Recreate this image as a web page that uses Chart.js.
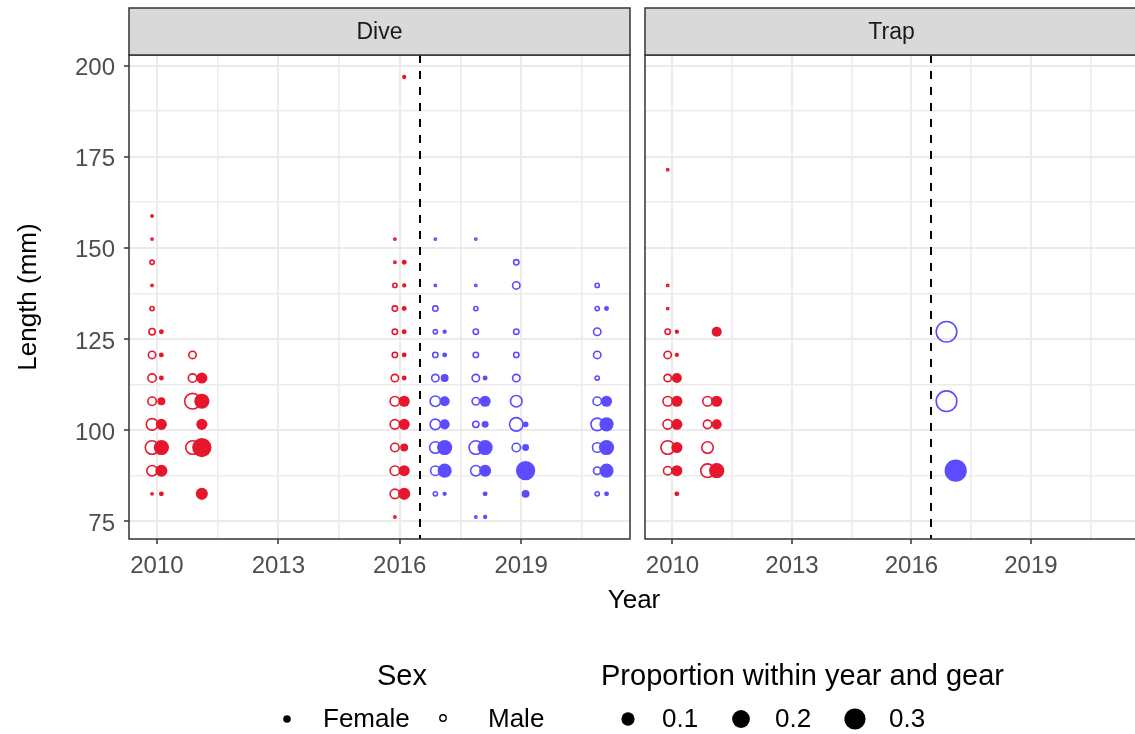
<!DOCTYPE html>
<html>
<head>
<meta charset="utf-8">
<script src="https://cdn.jsdelivr.net/npm/chart.js@4.4.1/dist/chart.umd.min.js"></script>
<style>
html,body{margin:0;padding:0;overflow:hidden;background:#ffffff;width:1135px;height:734px;}
canvas{position:absolute;left:0;top:0;}
</style>
</head>
<body>
<canvas id="dive" width="1150" height="734"></canvas>
<canvas id="trap" width="1150" height="734"></canvas>
<script>
// ---------------- DATA ----------------
// each entry: [year, length (mm), proportion within year and gear]
const diveMale = [
  [2010,158.75,0.005],[2010,152.4,0.005],[2010,146.05,0.012],[2010,139.7,0.005],[2010,133.35,0.012],
  [2010,127,0.027],[2010,120.65,0.038],[2010,114.3,0.05],[2010,107.95,0.05],[2010,101.6,0.097],
  [2010,95.25,0.138],[2010,88.9,0.079],[2010,82.55,0.005],
  [2011,120.65,0.038],[2011,114.3,0.05],[2011,107.95,0.186],[2011,95.25,0.138],
  [2016,152.4,0.005],[2016,146.05,0.005],[2016,139.7,0.012],[2016,133.35,0.019],[2016,127,0.019],
  [2016,120.65,0.019],[2016,114.3,0.038],[2016,107.95,0.064],[2016,101.6,0.064],[2016,95.25,0.05],
  [2016,88.9,0.064],[2016,82.55,0.064],[2016,76.2,0.005],
  [2017,152.4,0.005],[2017,139.7,0.005],[2017,133.35,0.019],[2017,127,0.012],[2017,120.65,0.019],
  [2017,114.3,0.038],[2017,107.95,0.079],[2017,101.6,0.079],[2017,95.25,0.097],[2017,88.9,0.064],[2017,82.55,0.012],
  [2018,152.4,0.005],[2018,139.7,0.005],[2018,133.35,0.012],[2018,127,0.019],[2018,120.65,0.019],
  [2018,114.3,0.038],[2018,107.95,0.038],[2018,101.6,0.027],[2018,95.25,0.138],[2018,88.9,0.079],[2018,76.2,0.005],
  [2019,146.05,0.019],[2019,139.7,0.038],[2019,127,0.019],[2019,120.65,0.019],[2019,114.3,0.038],
  [2019,107.95,0.097],[2019,101.6,0.138],[2019,95.25,0.05],
  [2021,139.7,0.012],[2021,133.35,0.012],[2021,127,0.038],[2021,120.65,0.038],[2021,114.3,0.012],
  [2021,107.95,0.05],[2021,101.6,0.117],[2021,95.25,0.064],[2021,88.9,0.038],[2021,82.55,0.012]
];
const diveFemale = [
  [2010,127,0.008],[2010,120.65,0.008],[2010,114.3,0.008],[2010,107.95,0.027],[2010,101.6,0.064],
  [2010,95.25,0.138],[2010,88.9,0.079],[2010,82.55,0.008],
  [2011,114.3,0.064],[2011,107.95,0.138],[2011,101.6,0.064],[2011,95.25,0.242],[2011,82.55,0.079],
  [2016,196.85,0.006],[2016,146.05,0.008],[2016,139.7,0.006],[2016,133.35,0.008],[2016,127,0.008],
  [2016,120.65,0.008],[2016,114.3,0.008],[2016,107.95,0.064],[2016,101.6,0.064],[2016,95.25,0.027],
  [2016,88.9,0.064],[2016,82.55,0.079],
  [2017,127,0.006],[2017,120.65,0.008],[2017,114.3,0.027],[2017,107.95,0.05],[2017,101.6,0.05],
  [2017,95.25,0.138],[2017,88.9,0.117],[2017,82.55,0.006],
  [2018,114.3,0.008],[2018,107.95,0.064],[2018,101.6,0.019],[2018,95.25,0.138],[2018,88.9,0.079],
  [2018,82.55,0.008],[2018,76.2,0.006],
  [2019,101.6,0.012],[2019,95.25,0.019],[2019,88.9,0.242],[2019,82.55,0.027],
  [2021,133.35,0.008],[2021,107.95,0.064],[2021,101.6,0.117],[2021,95.25,0.138],[2021,88.9,0.117],[2021,82.55,0.008]
];
const trapMale = [
  [2010,171.45,0.005],[2010,139.7,0.005],[2010,133.35,0.005],[2010,127,0.019],[2010,120.65,0.038],
  [2010,114.3,0.038],[2010,107.95,0.064],[2010,101.6,0.064],[2010,95.25,0.138],[2010,88.9,0.05],
  [2011,107.95,0.064],[2011,101.6,0.05],[2011,95.25,0.097],[2011,88.9,0.138],
  [2017,127,0.333],[2017,107.95,0.333]
];
const trapFemale = [
  [2010,127,0.006],[2010,120.65,0.006],[2010,114.3,0.05],[2010,107.95,0.064],[2010,101.6,0.064],
  [2010,95.25,0.064],[2010,88.9,0.064],[2010,82.55,0.008],
  [2011,127,0.05],[2011,107.95,0.064],[2011,101.6,0.05],[2011,88.9,0.138],
  [2017,88.9,0.333]
];
const panelNames = ['Dive', 'Trap'];
const xMajorTicks = [2010, 2013, 2016, 2019];
const xMinorTicks = [2011.5, 2014.5, 2017.5, 2020.5];
const yMajorTicks = [75, 100, 125, 150, 175, 200];
const yMinorTicks = [87.5, 112.5, 137.5, 162.5, 187.5];
const splitYear = 2016.5;
const sexLabels = ['Female', 'Male'];
const sizeBreaks = [0.1, 0.2, 0.3];

// ---------------- STYLE ----------------
const FONT = '"Liberation Sans", Arial, Helvetica, sans-serif';
const RED = '#E6172D', BLUE = '#5C4CFF';
const X_MIN = 2009.31, X_MAX = 2021.69, Y_MIN = 70.17, Y_MAX = 202.88;
const MALE_DODGE = -0.12, FEMALE_DODGE = 0.11;
const OPEN_STROKE = 1.6;

function diam(p) { return 2.8 + 19.6 * Math.sqrt(Math.max(p - 0.004, 0) / 0.336); }
function colorFor(yr) { return yr < splitYear ? RED : BLUE; }

function datasets(male, female) {
  const openR = c => Math.max(diam(c.raw.p) / 2 - OPEN_STROKE / 2, 0.8);
  const fillR = c => diam(c.raw.p) / 2;
  return [
    {
      label: 'Male', order: 2,
      data: male.map(d => ({ x: d[0] + MALE_DODGE, y: d[1], p: d[2], yr: d[0] })),
      pointStyle: 'circle',
      pointRadius: openR, pointHoverRadius: openR,
      pointBorderWidth: OPEN_STROKE,
      pointBackgroundColor: 'rgba(0,0,0,0)',
      pointBorderColor: c => colorFor(c.raw.yr)
    },
    {
      label: 'Female', order: 1,
      data: female.map(d => ({ x: d[0] + FEMALE_DODGE, y: d[1], p: d[2], yr: d[0] })),
      pointStyle: 'circle',
      pointRadius: fillR, pointHoverRadius: fillR,
      pointBorderWidth: 0,
      pointBackgroundColor: c => colorFor(c.raw.yr),
      pointBorderColor: c => colorFor(c.raw.yr)
    }
  ];
}

function scales(showY) {
  return {
    x: {
      type: 'linear', min: X_MIN, max: X_MAX,
      afterBuildTicks: s => { s.ticks = xMajorTicks.concat(xMinorTicks).sort((a, b) => a - b).map(v => ({ value: v })); },
      afterFit: s => { s.height = 45; },
      ticks: {
        autoSkip: false, maxRotation: 0, padding: 8,
        font: { family: FONT, size: 24 }, color: '#4D4D4D',
        callback: v => xMajorTicks.includes(v) ? String(v) : ''
      },
      grid: {
        color: '#EBEBEB',
        lineWidth: c => (c.tick && xMajorTicks.includes(c.tick.value)) ? 2 : 1.6,
        drawTicks: true, tickLength: 5, tickWidth: 1.5,
        tickColor: c => (c.tick && xMajorTicks.includes(c.tick.value)) ? '#333333' : 'rgba(0,0,0,0)'
      },
      border: { display: false }
    },
    y: {
      type: 'linear', min: Y_MIN, max: Y_MAX,
      afterBuildTicks: s => { s.ticks = yMajorTicks.concat(yMinorTicks).sort((a, b) => a - b).map(v => ({ value: v })); },
      afterFit: s => { s.width = showY ? 129 : 0; },
      ticks: {
        display: showY, autoSkip: false, padding: 9, labelOffset: 3,
        font: { family: FONT, size: 24 }, color: '#4D4D4D',
        callback: v => yMajorTicks.includes(v) ? String(v) : ''
      },
      grid: {
        color: '#EBEBEB',
        lineWidth: c => (c.tick && yMajorTicks.includes(c.tick.value)) ? 2 : 1.6,
        drawTicks: showY, tickLength: 5, tickWidth: 1.5,
        tickColor: c => (c.tick && yMajorTicks.includes(c.tick.value)) ? '#333333' : 'rgba(0,0,0,0)'
      },
      border: { display: false }
    }
  };
}

const panelPlugin = {
  id: 'panel',
  beforeDatasetsDraw(chart, args, opts) {
    const { ctx, chartArea: a, scales: { x } } = chart;
    const px = Math.round(x.getPixelForValue(splitYear));
    ctx.save();
    ctx.beginPath(); ctx.rect(a.left, a.top, a.width, a.height); ctx.clip();
    ctx.setLineDash([8, 8]);
    ctx.strokeStyle = '#000000'; ctx.lineWidth = 2;
    ctx.beginPath(); ctx.moveTo(px, a.top); ctx.lineTo(px, a.bottom); ctx.stroke();
    ctx.restore();
  },
  afterDraw(chart, args, opts) {
    const { ctx, chartArea: a } = chart;
    ctx.save();
    ctx.strokeStyle = '#333333'; ctx.lineWidth = 1.5;
    ctx.strokeRect(a.left, a.top, a.width, a.height);
    const sTop = 8;
    ctx.fillStyle = '#D9D9D9';
    ctx.fillRect(a.left, sTop, a.width, a.top - sTop);
    ctx.strokeRect(a.left, sTop, a.width, a.top - sTop);
    ctx.fillStyle = '#1A1A1A';
    ctx.font = '23px ' + FONT;
    ctx.textAlign = 'center'; ctx.textBaseline = 'middle';
    ctx.fillText(opts.title, (a.left + a.right) / 2, (sTop + a.top) / 2 + 1);
    ctx.restore();
  }
};

const decorPlugin = {
  id: 'decor',
  afterDraw(chart) {
    const ctx = chart.ctx;
    ctx.save();
    ctx.fillStyle = '#000000';
    ctx.textBaseline = 'middle';
    ctx.font = '26px ' + FONT;
    ctx.textAlign = 'center';
    ctx.fillText('Year', 634, 601);
    ctx.save();
    ctx.translate(29, 297); ctx.rotate(-Math.PI / 2);
    ctx.fillText('Length (mm)', 0, 0);
    ctx.restore();
    ctx.font = '29px ' + FONT;
    ctx.textAlign = 'left';
    ctx.fillText('Sex', 377, 677);
    ctx.fillText('Proportion within year and gear', 601, 677);
    const ly = 719;
    ctx.beginPath(); ctx.arc(287, ly, 3.8, 0, Math.PI * 2); ctx.fill();
    ctx.lineWidth = 1.4; ctx.strokeStyle = '#000000';
    ctx.beginPath(); ctx.arc(443, ly - 1, 3.2, 0, Math.PI * 2); ctx.stroke();
    ctx.font = '26px ' + FONT;
    ctx.fillText(sexLabels[0], 323, ly + 1);
    ctx.fillText(sexLabels[1], 488, ly + 1);
    const keyX = [628, 741, 855];
    sizeBreaks.forEach((b, i) => {
      ctx.beginPath(); ctx.arc(keyX[i], ly, diam(b) / 2, 0, Math.PI * 2); ctx.fill();
      ctx.fillText(String(b), keyX[i] + 34, ly + 1);
    });
    ctx.restore();
  }
};

function makeChart(id, name, male, female, showY, padding, extraPlugins) {
  return new Chart(document.getElementById(id), {
    type: 'scatter',
    data: { datasets: datasets(male, female) },
    options: {
      responsive: false, animation: false, devicePixelRatio: 1, events: [],
      layout: { padding },
      scales: scales(showY),
      plugins: { legend: { display: false }, tooltip: { enabled: false }, title: { display: false }, panel: { title: name } }
    },
    plugins: [panelPlugin].concat(extraPlugins)
  });
}

makeChart('dive', panelNames[0], diveMale, diveFemale, true, { left: 0, top: 55, right: 520, bottom: 150 }, [decorPlugin]);
makeChart('trap', panelNames[1], trapMale, trapFemale, false, { left: 645, top: 55, right: 4, bottom: 150 }, []);
</script>
</body>
</html>
